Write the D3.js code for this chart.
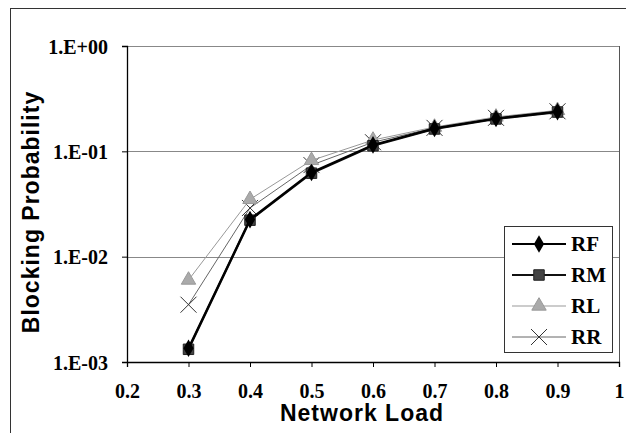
<!DOCTYPE html>
<html>
<head>
<meta charset="utf-8">
<script src="https://d3js.org/d3.v7.min.js"></script>
<style>
  body { margin: 0; background: #fff; }
  .tick text { font-family: "Liberation Serif", "Times New Roman", serif; font-weight: bold; font-size: 20px; fill: #000; }
  .axtitle { font-family: "Liberation Sans", Arial, sans-serif; font-weight: bold; font-size: 23px; letter-spacing: 1px; }
  .leg text { font-family: "Liberation Serif", "Times New Roman", serif; font-weight: bold; font-size: 21px; }
</style>
</head>
<body>
<div id="chart"></div>
<script>
"use strict"

// network load
var loads = [0.3, 0.4, 0.5, 0.6, 0.7, 0.8, 0.9];
// blocking probability per scheme
var rf = [0.00135, 0.0225, 0.063, 0.115, 0.165, 0.205, 0.238];
var rm = [0.00132, 0.0222, 0.062, 0.113, 0.163, 0.203, 0.236];
var rl = [0.0060, 0.035, 0.082, 0.128, 0.170, 0.212, 0.245];
var rr = [0.0035, 0.029, 0.074, 0.122, 0.167, 0.208, 0.240];
var names = ["RF", "RM", "RL", "RR"];
var xTicks = [0.2, 0.3, 0.4, 0.5, 0.6, 0.7, 0.8, 0.9, 1];
var yTicks = [1e-3, 1e-2, 1e-1, 1];
var yTickLabels = ["1.E-03", "1.E-02", "1.E-01", "1.E+00"];

var W = 626, H = 433;
var margin = {top: 46, right: 4, bottom: 71, left: 127};
var w = W - margin.left - margin.right, h = H - margin.top - margin.bottom;

var svg = d3.select("#chart").append("svg").attr("width", W).attr("height", H);

// outer chart frame (runs off the picture)
svg.append("rect").attr("x", 10.5).attr("y", 8.5).attr("width", 700).attr("height", 500)
  .attr("fill", "none").attr("stroke", "#333").attr("stroke-width", 1);

var g = svg.append("g").attr("transform", "translate(" + margin.left + "," + margin.top + ")");

var x = d3.scaleLinear().domain([0.2, 1]).range([0, w - 3]);
var y = d3.scaleLog().domain([1e-3, 1]).range([h, 0]);

// gridlines
g.selectAll(".grid").data(yTicks.slice(1)).enter().append("line")
  .attr("x1", 0).attr("x2", w - 3)
  .attr("y1", d => Math.round(y(d)) + 0.5).attr("y2", d => Math.round(y(d)) + 0.5)
  .attr("stroke", "#888").attr("stroke-width", 1);

// plot right border
g.append("line").attr("x1", w - 2.5).attr("x2", w - 2.5).attr("y1", 0).attr("y2", h)
  .attr("stroke", "#555");

var xa = g.append("g").attr("transform", "translate(0," + h + ")")
  .call(d3.axisBottom(x).tickValues(xTicks).tickFormat(d => d === 1 ? "1" : d3.format(".1f")(d)).tickSizeOuter(0).tickSize(5).tickPadding(17));
var ya = g.append("g")
  .call(d3.axisLeft(y).tickValues(yTicks).tickFormat((d, i) => yTickLabels[yTicks.indexOf(d)]).tickSizeOuter(0).tickSize(5).tickPadding(14));
g.selectAll(".domain").attr("stroke", "#000").attr("stroke-width", 1.3);
g.selectAll(".tick line").attr("stroke", "#000");
ya.selectAll(".tick text").attr("dy", "0.35em");

var series = [
  {name: "RF", vals: rf, color: "#000", lw: 2.2, marker: "diamond", fill: "#000"},
  {name: "RM", vals: rm, color: "#111", lw: 2.2, marker: "square", fill: "#444"},
  {name: "RL", vals: rl, color: "#999", lw: 1, marker: "triangle", fill: "#aaa"},
  {name: "RR", vals: rr, color: "#666", lw: 1, marker: "cross", fill: "none"}
];

var line = d3.line().x(d => x(d[0])).y(d => y(d[1]));

function drawMarker(sel, m, fill) {
  if (m === "diamond") sel.append("path").attr("d", d3.symbol(d3.symbolDiamond, 90)()).attr("fill", fill);
  if (m === "square") sel.append("path").attr("d", d3.symbol(d3.symbolSquare, 110)()).attr("fill", fill).attr("stroke", "#222");
  if (m === "triangle") sel.append("path").attr("d", d3.symbol(d3.symbolTriangle, 90)()).attr("fill", fill).attr("stroke", "#999");
  if (m === "cross") sel.append("path").attr("d", "M-8,-8L8,8M-8,8L8,-8").attr("stroke", "#333").attr("stroke-width", 1).attr("fill", "none");
}

// draw in reverse so RF is on top
series.slice().reverse().forEach(function(s) {
  var pts = loads.map((l, i) => [l, s.vals[i]]);
  g.append("path").datum(pts).attr("d", line).attr("fill", "none")
    .attr("stroke", s.color).attr("stroke-width", s.lw);
  pts.forEach(function(p) {
    var mk = g.append("g").attr("transform", "translate(" + x(p[0]) + "," + y(p[1]) + ")");
    drawMarker(mk, s.marker, s.fill);
  });
});

// legend
var leg = svg.append("g").attr("class", "leg").attr("transform", "translate(504,226)");
leg.append("rect").attr("x", 0.5).attr("y", 0.5).attr("width", 108).attr("height", 126)
  .attr("fill", "#fff").attr("stroke", "#333");
series.forEach(function(s, i) {
  var ly = 18 + i * 31;
  leg.append("line").attr("x1", 8).attr("x2", 62).attr("y1", ly).attr("y2", ly)
    .attr("stroke", s.color).attr("stroke-width", s.lw);
  drawMarker(leg.append("g").attr("transform", "translate(35," + ly + ")"), s.marker, s.fill);
  leg.append("text").attr("x", 67).attr("y", ly).attr("dy", "0.35em").text(s.name);
});

// axis titles
svg.append("text").attr("class", "axtitle").attr("x", 362).attr("y", 421)
  .attr("text-anchor", "middle").text("Network Load");
svg.append("text").attr("class", "axtitle")
  .attr("transform", "translate(39,212) rotate(-90)")
  .attr("text-anchor", "middle").text("Blocking Probability");
</script>
</body>
</html>
